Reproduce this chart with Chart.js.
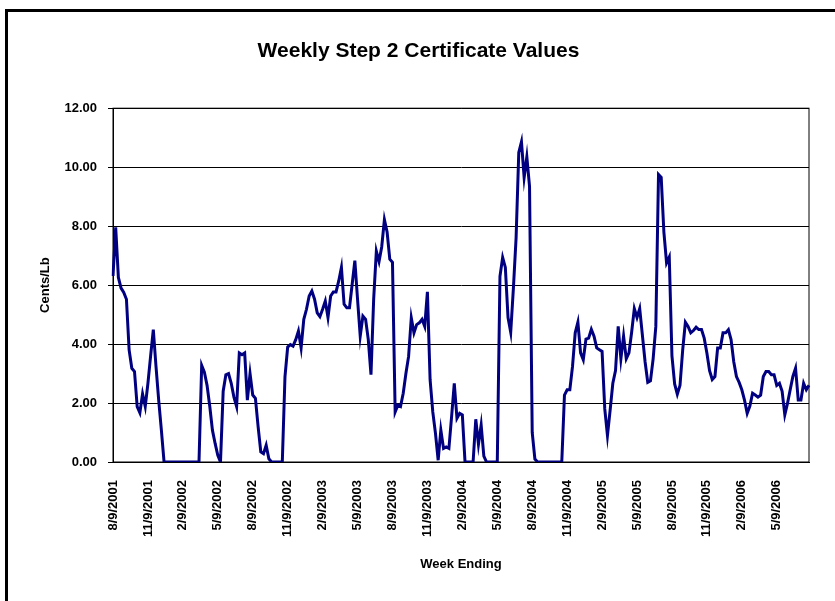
<!DOCTYPE html>
<html>
<head>
<meta charset="utf-8">
<script src="https://cdn.jsdelivr.net/npm/chart.js@4.4.1/dist/chart.umd.min.js"></script>
<style>
    html, body { margin: 0; padding: 0; background: #fff; }
    #wrap { position: relative; width: 835px; height: 601px; overflow: hidden; }
    /* outer chart frame, clipped at right and bottom like the original */
    #frame { position: absolute; left: 5px; top: 9px; width: 900px; height: 700px;
             border-left: 3px solid #000; border-top: 3px solid #000; }
    canvas { position: absolute; left: 0; top: 0; }
</style>
</head>
<body>
<div id="wrap">
    <div id="frame"></div>
    <canvas id="stepChart" width="835" height="601"></canvas>
</div>
<script>
// Weekly Step 2 certificate values, cents/lb, first week ending 8/9/2001
const firstWeek = new Date(2001, 7, 9);
const centsPerLb = [
    6.31, 7.96, 6.26, 5.9, 5.75, 5.52, 3.8, 3.18, 3.07, 1.88, 1.67, 2.31, 1.88, 2.67, 3.6, 4.49, 3.24, 2.1, 1.08, 0,
    0, 0, 0, 0, 0, 0, 0, 0, 0, 0, 0, 0, 0,
    3.28, 3.05, 2.6, 1.9, 1.08, 0.63, 0.23, 0, 2.4, 2.96, 3.0, 2.67, 2.2, 1.88, 3.7, 3.64, 3.7, 2.1, 3.0, 2.27,
    2.16, 1.2, 0.34, 0.28, 0.57, 0.11, 0, 0, 0, 0, 0,
    2.9, 3.9, 3.98, 3.93, 4.15, 4.44, 3.87, 4.84, 5.18, 5.63, 5.8, 5.52, 5.06, 4.93, 5.18, 5.46, 4.9, 5.63, 5.77,
    5.77, 6.14, 6.6, 5.35, 5.23, 5.23, 6.03, 6.83, 5.52, 4.27, 4.95, 4.84, 4.15, 2.96, 5.52, 7.15, 6.8, 7.3, 8.22,
    7.8, 6.88, 6.77,
    1.7, 1.93, 1.88, 2.33, 3.0, 3.58, 4.89, 4.38, 4.66, 4.72, 4.84, 4.6, 5.77, 2.79, 1.7, 0.97, 0.06, 1.08, 0.46,
    0.51, 0.46, 1.54, 2.67, 1.48, 1.65, 1.6, 0,
    0, 0, 0, 1.45, 0.6, 1.25, 0.2, 0, 0, 0, 0, 0,
    6.3, 6.94, 6.6, 4.9, 4.4, 5.9, 7.6, 10.5, 10.86, 9.65, 10.35, 9.35, 1.0, 0.1,
    0, 0, 0, 0, 0, 0, 0, 0, 0, 0,
    2.27, 2.45, 2.45, 3.24, 4.38, 4.74, 3.7, 3.47, 4.17, 4.2, 4.5, 4.27, 3.87, 3.81, 3.75, 1.8, 0.9, 1.76, 2.67,
    3.1, 4.6, 3.5, 4.27, 3.5, 3.7, 4.4, 5.2, 4.9, 5.2, 4.3, 3.4, 2.7,
    2.75, 3.5, 4.6, 9.75, 9.65, 7.8, 6.75, 6.95, 3.6, 2.65, 2.3, 2.6, 3.8, 4.74, 4.6, 4.38, 4.46, 4.57, 4.49,
    4.49, 4.2, 3.7, 3.1, 2.8, 2.9, 3.87, 3.87, 4.38, 4.38, 4.49, 4.15, 3.4, 2.9, 2.7,
    2.45, 2.1, 1.65, 1.9, 2.33, 2.27, 2.2, 2.27, 2.9, 3.07, 3.07, 2.96, 2.96, 2.6, 2.67, 2.4, 1.6, 1.99, 2.45,
    2.9, 3.18, 2.1, 2.1, 2.67, 2.45, 2.6
];

// Axis labels shown every 13 weeks
const tickLabels = ['8/9/2001', '11/9/2001', '2/9/2002', '5/9/2002', '8/9/2002', '11/9/2002', '2/9/2003',
    '5/9/2003', '8/9/2003', '11/9/2003', '2/9/2004', '5/9/2004', '8/9/2004', '11/9/2004', '2/9/2005',
    '5/9/2005', '8/9/2005', '11/9/2005', '2/9/2006', '5/9/2006'];
const tickEvery = 13;
const yTicks = [0, 2, 4, 6, 8, 10, 12];

// Week ending dates (categories)
const weeks = centsPerLb.map((v, i) => {
    const d = new Date(firstWeek.getTime() + i * 7 * 86400000);
    return (d.getMonth() + 1) + '/' + d.getDate() + '/' + d.getFullYear();
});

const font = 'Liberation Sans, Arial, sans-serif';

// draws the plot area box (right side of the frame)
const plotFrame = {
    id: 'plotFrame',
    beforeDatasetsDraw(chart) {
        const { ctx, chartArea: a } = chart;
        ctx.save();
        ctx.strokeStyle = '#000';
        ctx.lineWidth = 1;
        ctx.strokeRect(a.left, a.top, a.right - a.left, a.bottom - a.top);
        ctx.restore();
    }
};

const ctx = document.getElementById('stepChart').getContext('2d');
new Chart(ctx, {
    type: 'line',
    data: {
        labels: weeks,
        datasets: [{
            label: 'Step 2 Certificate',
            data: centsPerLb,
            borderColor: '#000080',
            borderWidth: 3,
            pointRadius: 0,
            tension: 0,
            fill: false
        }]
    },
    options: {
        responsive: false,
        animation: false,
        devicePixelRatio: 1,
        layout: { padding: { left: 28, right: 26, top: 0, bottom: 0 } },
        plugins: {
            legend: { display: false },
            tooltip: { enabled: false },
            title: {
                display: true,
                text: 'Weekly Step 2 Certificate Values',
                color: '#000',
                font: { family: font, size: 21, weight: 'bold' },
                padding: { top: 39, bottom: 44 }
            }
        },
        scales: {
            x: {
                type: 'category',
                offset: false,
                grid: { display: false, drawTicks: false },
                border: { display: true, color: '#000', width: 1 },
                ticks: {
                    autoSkip: false,
                    minRotation: 90,
                    maxRotation: 90,
                    padding: 18,
                    color: '#000',
                    font: { family: font, size: 13, weight: 'bold' },
                    callback: (v, i) => i % tickEvery === 0 ? tickLabels[i / tickEvery] : null
                },
                title: {
                    display: true,
                    text: 'Week Ending',
                    color: '#000',
                    font: { family: font, size: 13, weight: 'bold' },
                    padding: { top: 0, bottom: 29 }
                },
                afterFit: scale => { scale.height = 139; }
            },
            y: {
                min: yTicks[0],
                max: yTicks[yTicks.length - 1],
                grid: { color: '#000', lineWidth: 1, tickLength: 5 },
                border: { display: true, color: '#000', width: 1 },
                ticks: {
                    stepSize: 2,
                    padding: 11,
                    color: '#000',
                    font: { family: font, size: 13, weight: 'bold' },
                    callback: v => v.toFixed(2)
                },
                title: {
                    display: true,
                    text: 'Cents/Lb',
                    color: '#000',
                    font: { family: font, size: 13, weight: 'bold' },
                    padding: { top: 10, bottom: 0 }
                },
                afterFit: scale => { scale.width = 85; }
            }
        }
    },
    plugins: [plotFrame]
});
</script>
</body>
</html>
